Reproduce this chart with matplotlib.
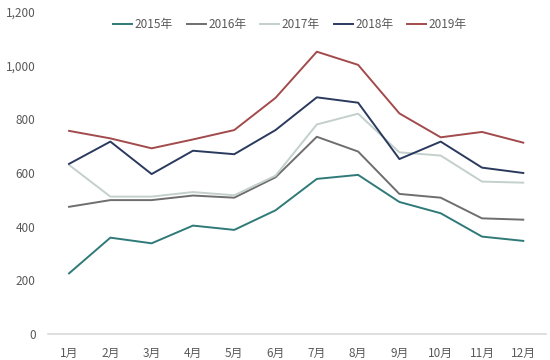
import matplotlib
matplotlib.use("Agg")
import matplotlib.pyplot as plt

plt.rcParams['font.family'] = ['Noto Sans CJK JP', 'DejaVu Sans']

months = ["1月", "2月", "3月", "4月", "5月", "6月", "7月", "8月", "9月", "10月", "11月", "12月"]
y2015 = [226, 359, 338, 404, 388, 461, 578, 593, 492, 450, 363, 347]
y2016 = [474, 499, 499, 516, 508, 584, 735, 680, 522, 508, 431, 426]
y2017 = [630, 512, 512, 529, 517, 590, 781, 821, 677, 665, 568, 564]
y2018 = [634, 717, 596, 683, 670, 760, 882, 862, 652, 717, 620, 600]
y2019 = [757, 729, 692, 725, 760, 880, 1052, 1003, 822, 733, 753, 713]
labels = ["2015年", "2016年", "2017年", "2018年", "2019年"]
colors = ["#2F7A78", "#6E6E6E", "#C3D0CC", "#2A3A5E", "#A24A4C"]
yticks = [0, 200, 400, 600, 800, 1000, 1200]

fig = plt.figure(figsize=(5.5, 3.6), dpi=100)
ax = fig.add_axes([48/550, 26/360, (546-48)/550, 322/360])
x = list(range(1, 13))
for ys, lab, c in zip([y2015, y2016, y2017, y2018, y2019], labels, colors):
    ax.plot(x, ys, color=c, lw=1.4, label=lab)

ax.set_xlim(0.49, 12.55)
ax.set_ylim(0, 1200)
ax.set_xticks(x)
ax.set_xticklabels(months)
ax.set_yticks(yticks)
ax.set_yticklabels([f"{v:,}" for v in yticks])
for s in ["top", "right", "left"]:
    ax.spines[s].set_visible(False)
ax.spines["bottom"].set_color("#D9D9D9")
ax.spines["bottom"].set_linewidth(1.2)
ax.tick_params(axis="both", length=0, colors="#595959", labelsize=8.5)
ax.tick_params(axis="x", pad=9)
ax.tick_params(axis="y", pad=9)
leg = ax.legend(loc="center", bbox_to_anchor=(0.486, 0.96), ncol=5, frameon=False,
                fontsize=8.5, handlelength=1.6, handletextpad=0.2, columnspacing=1.2,
                labelcolor="#595959")
fig.savefig("out.png", dpi=100)
